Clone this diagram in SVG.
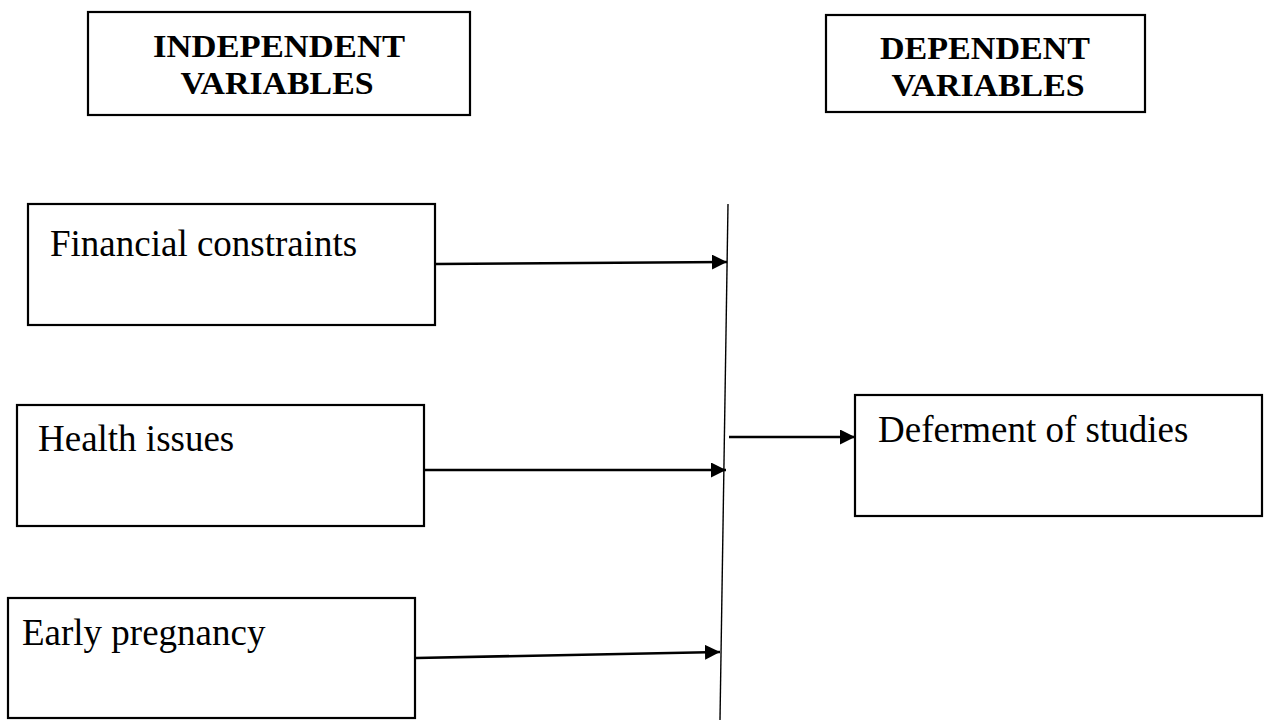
<svg xmlns="http://www.w3.org/2000/svg" width="1265" height="720" viewBox="0 0 1265 720">
  <style>
    .box { fill: #ffffff; stroke: #000000; stroke-width: 2.2; }
    .head { font-family: "Liberation Serif", "Times New Roman", serif; font-weight: bold; font-size: 31px; fill: #000000; text-anchor: middle; }
    .label { font-family: "Liberation Serif", "Times New Roman", serif; font-size: 37px; fill: #000000; }
    .conn { stroke: #000000; stroke-width: 2.6; fill: none; }
    .bar { stroke: #000000; stroke-width: 1.4; fill: none; }
  </style>
  <defs>
    <marker id="arrow" viewBox="0 0 14 14" refX="14" refY="7" markerWidth="15" markerHeight="15" markerUnits="userSpaceOnUse" orient="auto">
      <path d="M0,0 L14,7 L0,14 Z" fill="#000000"/>
    </marker>
  </defs>
  <rect width="1265" height="720" fill="#ffffff"/>

  <g id="independent-header">
    <rect class="box" x="88" y="12" width="382" height="103"/>
    <text class="head" x="279" y="57" textLength="252" lengthAdjust="spacingAndGlyphs">INDEPENDENT</text>
    <text class="head" x="277" y="94" textLength="193" lengthAdjust="spacingAndGlyphs">VARIABLES</text>
  </g>

  <g id="dependent-header">
    <rect class="box" x="826" y="15" width="319" height="97"/>
    <text class="head" x="985" y="59" textLength="210" lengthAdjust="spacingAndGlyphs">DEPENDENT</text>
    <text class="head" x="988" y="96" textLength="193" lengthAdjust="spacingAndGlyphs">VARIABLES</text>
  </g>

  <g id="financial-constraints">
    <rect class="box" x="28" y="204" width="407" height="121"/>
    <text class="label" x="50" y="256">Financial constraints</text>
  </g>

  <g id="health-issues">
    <rect class="box" x="17" y="405" width="407" height="121"/>
    <text class="label" x="38" y="451">Health issues</text>
  </g>

  <g id="early-pregnancy">
    <rect class="box" x="8" y="598" width="407" height="120"/>
    <text class="label" x="22" y="645">Early pregnancy</text>
  </g>

  <g id="deferment-of-studies">
    <rect class="box" x="855" y="395" width="407" height="121"/>
    <text class="label" x="878" y="442">Deferment of studies</text>
  </g>

  <g id="connectors">
    <line class="bar" x1="728" y1="204" x2="720" y2="720"/>
    <line class="conn" x1="436" y1="264" x2="727" y2="262" marker-end="url(#arrow)"/>
    <line class="conn" x1="425" y1="470" x2="726" y2="470" marker-end="url(#arrow)"/>
    <line class="conn" x1="416" y1="658" x2="720" y2="652" marker-end="url(#arrow)"/>
    <line class="conn" x1="729" y1="437" x2="855" y2="437" marker-end="url(#arrow)"/>
  </g>
</svg>
